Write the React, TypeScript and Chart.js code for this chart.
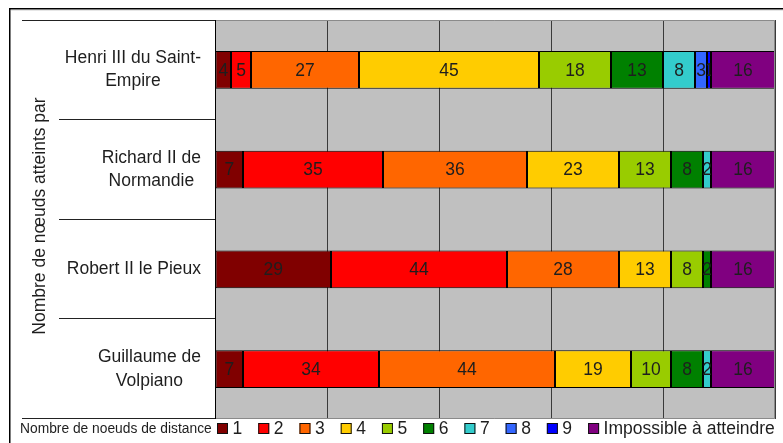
import React, { useEffect, useRef } from "react";
import { Chart, registerables } from "chart.js";
Chart.register(...registerables);

const categories: string[][] = [
  ["Henri III du Saint-", "Empire"],
  ["Richard II de", "Normandie"],
  ["Robert II le Pieux"],
  ["Guillaume de", "Volpiano"],
];
const seriesLabels = ["1", "2", "3", "4", "5", "6", "7", "8", "9", "Impossible à atteindre"];
const seriesColors = ["#800000", "#ff0000", "#ff6600", "#ffcc00", "#99cc00", "#008000", "#33cccc", "#3366ff", "#0000ff", "#800080"];
const dist1 = [4, 7, 29, 7];
const dist2 = [5, 35, 44, 34];
const dist3 = [27, 36, 28, 44];
const dist4 = [45, 23, 13, 19];
const dist5 = [18, 13, 8, 10];
const dist6 = [13, 8, 2, 8];
const dist7 = [8, 2, 0, 2];
const dist8 = [3, 0, 0, 0];
const dist9 = [1, 0, 0, 0];
const distImpossible = [16, 16, 16, 16];
const seriesValues = [dist1, dist2, dist3, dist4, dist5, dist6, dist7, dist8, dist9, distImpossible];
const axisMax = 140;
const axisStep = 28;
const yTitle = "Nombre de nœuds atteints par";
const legendTitle = "Nombre de noeuds de distance";

const FONT = '"Liberation Sans", Arial, sans-serif';
const TEXT = "#1e1e1e";

const customPlugin = {
  id: "custom",
  beforeDraw(chart: any) {
    const { ctx, chartArea: a } = chart;
    ctx.save();
    ctx.fillStyle = "#ffffff";
    ctx.fillRect(0, 0, chart.width, chart.height);
    ctx.fillStyle = "#c0c0c0";
    ctx.fillRect(a.left, a.top, a.right - a.left, a.bottom - a.top);
    ctx.restore();
  },
  afterDatasetsDraw(chart: any) {
    const { ctx } = chart;
    ctx.save();
    ctx.font = `17.5px ${FONT}`;
    ctx.fillStyle = TEXT;
    ctx.textAlign = "center";
    ctx.textBaseline = "middle";
    chart.data.datasets.forEach((ds: any, di: number) => {
      const meta = chart.getDatasetMeta(di);
      meta.data.forEach((el: any, i: number) => {
        const v = ds.data[i];
        if (v == null) return;
        const p = el.getProps(["x", "y", "base", "height"], true);
        const l = Math.min(p.x, p.base);
        const r = Math.max(p.x, p.base);
        ctx.save();
        ctx.beginPath();
        ctx.rect(l, p.y - p.height / 2, r - l, p.height);
        ctx.clip();
        ctx.fillText(String(v), (l + r) / 2, p.y + 1);
        ctx.restore();
      });
    });
    ctx.restore();
  },
  afterDraw(chart: any) {
    const { ctx, chartArea: a } = chart;
    const yScale = chart.scales.y;
    ctx.save();
    // outer frame
    ctx.fillStyle = "#000";
    ctx.fillRect(9, 8, chart.width - 9, 1.5);
    ctx.fillRect(9, 8, 1.5, chart.height - 8);
    ctx.fillStyle = "#e6e6e6";
    ctx.fillRect(11, 10, chart.width - 11, 1);

    // plot border
    ctx.strokeStyle = "#8a8a8a";
    ctx.lineWidth = 1;
    ctx.beginPath();
    ctx.moveTo(a.left, a.top + 0.5);
    ctx.lineTo(a.right - 0.5, a.top + 0.5);
    ctx.lineTo(a.right - 0.5, a.bottom - 0.5);
    ctx.lineTo(a.left, a.bottom - 0.5);
    ctx.stroke();
    ctx.strokeStyle = "#000";
    ctx.beginPath();
    ctx.moveTo(a.left + 0.5, a.top);
    ctx.lineTo(a.left + 0.5, a.bottom);
    ctx.stroke();

    // category separators
    const n = categories.length;
    const span = (a.bottom - a.top) / n;
    ctx.strokeStyle = "#222";
    for (let k = 0; k <= n; k++) {
      const y = Math.round(a.top + k * span) - 0.5 + (k === 0 ? 1 : 0);
      const x0 = k === 0 || k === n ? 22 : 59;
      ctx.beginPath();
      ctx.moveTo(x0, y);
      ctx.lineTo(a.left, y);
      ctx.stroke();
    }

    // category labels
    ctx.font = `17.5px ${FONT}`;
    ctx.fillStyle = TEXT;
    ctx.textAlign = "center";
    ctx.textBaseline = "middle";
    const lh = 23.5;
    categories.forEach((lines, i) => {
      const cy = yScale.getPixelForValue(i);
      const w = Math.max(...lines.map((s) => ctx.measureText(s).width));
      const cx = 201 - w / 2;
      lines.forEach((s, j) => {
        ctx.fillText(s, cx, cy + (j - (lines.length - 1) / 2) * lh);
      });
    });

    // y title
    ctx.save();
    ctx.translate(40, 216);
    ctx.rotate(-Math.PI / 2);
    ctx.fillText(yTitle, 0, 0);
    ctx.restore();

    // legend
    const ly = 429;
    ctx.textAlign = "left";
    ctx.font = `13.8px ${FONT}`;
    ctx.fillText(legendTitle, 20, ly);
    ctx.font = `17.5px ${FONT}`;
    let x = 217;
    seriesLabels.forEach((lab, i) => {
      ctx.fillStyle = seriesColors[i];
      ctx.fillRect(x, ly - 6, 11, 11);
      ctx.strokeStyle = "#111";
      ctx.strokeRect(x + 0.5, ly - 5.5, 10, 10);
      ctx.fillStyle = TEXT;
      ctx.fillText(lab, x + 15.5, ly + 0.5);
      x += 15.5 + ctx.measureText(lab).width + 16;
    });
    ctx.restore();
  },
};

export default function App() {
  const ref = useRef<HTMLCanvasElement | null>(null);
  useEffect(() => {
    if (!ref.current) return;
    const chart = new Chart(ref.current, {
      type: "bar",
      data: {
        labels: categories.map((c) => c.join(" ")),
        datasets: seriesLabels.map((lab, i) => ({
          label: lab,
          data: seriesValues[i].map((v) => (v === 0 ? null : v)),
          backgroundColor: seriesColors[i],
          borderColor: "#000",
          borderWidth: 1,
          borderSkipped: false,
          barPercentage: 0.38,
          categoryPercentage: 1,
        })),
      },
      options: {
        indexAxis: "y",
        responsive: false,
        animation: false,
        devicePixelRatio: 1,
        layout: { padding: { left: 215, top: 20, right: 8, bottom: 24 } },
        plugins: { legend: { display: false }, tooltip: { enabled: false } },
        scales: {
          x: {
            stacked: true,
            min: 0,
            max: axisMax,
            ticks: { display: false, stepSize: axisStep },
            grid: { color: "#3a3a3a", lineWidth: 1, drawTicks: false },
            border: { display: false },
            afterFit: (s: any) => {
              s.height = 0;
            },
          },
          y: {
            stacked: true,
            display: false,
          },
        },
      },
      plugins: [customPlugin],
    } as any);
    return () => chart.destroy();
  }, []);
  return (
    <div style={{ position: "fixed", left: 0, top: 0, width: 783, height: 443 }}>
      <canvas ref={ref} width={783} height={443} />
    </div>
  );
}
